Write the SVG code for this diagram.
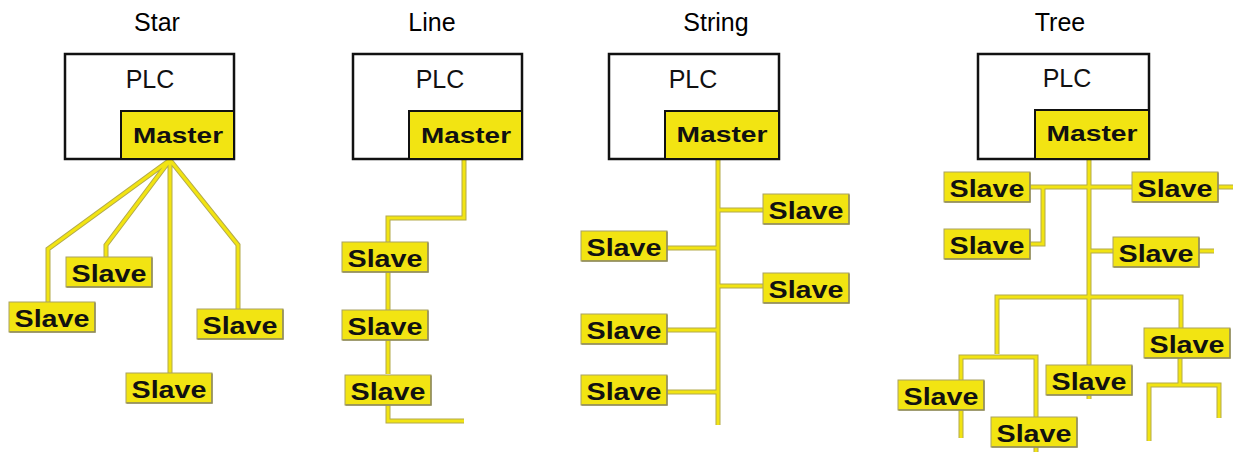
<svg xmlns="http://www.w3.org/2000/svg" width="1233" height="452" viewBox="0 0 1233 452">
  <style>
    .title { font-family: "Liberation Sans", Arial, sans-serif; font-size: 25px; fill: #000; text-anchor: middle; }
    .plc { fill: #fff; stroke: #111; stroke-width: 2.5; }
    .plc-label { font-family: "Liberation Sans", Arial, sans-serif; font-size: 25px; fill: #111; text-anchor: middle; }
    .master { fill: #f2e412; stroke: #111; stroke-width: 2; }
    .master-label { font-family: "Liberation Sans", Arial, sans-serif; font-weight: bold; font-size: 22px; fill: #111; text-anchor: middle; }
    .slave { fill: #f2e412; stroke: #a9a263; stroke-width: 1; }
    .slave-shade { fill: none; stroke: #8f8a5c; stroke-width: 1.5; }
    .slave-label { font-family: "Liberation Sans", Arial, sans-serif; font-weight: bold; font-size: 23px; fill: #111; text-anchor: middle; }
    .bus-edge { fill: none; stroke: #b3aa4c; stroke-width: 5; stroke-linejoin: miter; }
    .bus-core { fill: none; stroke: #f2e412; stroke-width: 3; stroke-linejoin: miter; }
  </style>
  <defs>
    <!-- reusable slave box, 86 x 30, origin at top-left -->
    <g id="slave-box">
      <rect class="slave" x="0" y="0" width="86" height="30"/>
      <path class="slave-shade" d="M0.5,30 H86 V0.5"/>
      <text class="slave-label" x="43" y="25" textLength="75" lengthAdjust="spacingAndGlyphs">Slave</text>
    </g>
    <!-- bus path data used twice: dark edge, then yellow core -->
    <path id="bus-star" d="M170,160 L48,249 V302 M170,160 L106,245 V257 M170,160 V373 M170,160 L238,245 V309"/>
    <path id="bus-line" d="M464,160 V218 H388 V242 M388,272 V310 M388,340 V374 M388,405 V421 H464"/>
    <path id="bus-string" d="M718,160 V425 M718,210 H763 M718,286 H763 M667,248 H718 M667,330 H718 M667,392 H718"/>
    <path id="bus-tree" d="M1089,160 V399 M1030,187 H1132 M1218,187 H1233 M1043,187 V244 H1030 M1089,251 H1113 M1199,251 H1214 M997,354 V297 H1181 V328 M961,380 V357 H1036 V417 M961,410 V438 M1036,447 V452 M1180,358 V385 M1149,441 V385 H1219 V418"/>
  </defs>

  <!-- topology titles -->
  <g id="titles">
    <text class="title" x="157" y="31">Star</text>
    <text class="title" x="432" y="31">Line</text>
    <text class="title" x="716" y="31">String</text>
    <text class="title" x="1060" y="31">Tree</text>
  </g>

  <!-- bus cabling -->
  <g id="connectors">
    <use href="#bus-star" class="bus-edge"/>
    <use href="#bus-star" class="bus-core"/>
    <use href="#bus-line" class="bus-edge"/>
    <use href="#bus-line" class="bus-core"/>
    <use href="#bus-string" class="bus-edge"/>
    <use href="#bus-string" class="bus-core"/>
    <use href="#bus-tree" class="bus-edge"/>
    <use href="#bus-tree" class="bus-core"/>
  </g>

  <!-- Star -->
  <g id="star-plc">
    <rect class="plc" x="65" y="54" width="169" height="105"/>
    <text class="plc-label" x="150" y="88">PLC</text>
    <rect class="master" x="121" y="111" width="113" height="48"/>
    <text class="master-label" x="178" y="143" textLength="90" lengthAdjust="spacingAndGlyphs">Master</text>
  </g>
  <g id="star-slave-1"><use href="#slave-box" x="66" y="257"/></g>
  <g id="star-slave-2"><use href="#slave-box" x="9" y="302"/></g>
  <g id="star-slave-3"><use href="#slave-box" x="197" y="309"/></g>
  <g id="star-slave-4"><use href="#slave-box" x="126" y="373"/></g>

  <!-- Line -->
  <g id="line-plc">
    <rect class="plc" x="353" y="54" width="169" height="105"/>
    <text class="plc-label" x="440" y="88">PLC</text>
    <rect class="master" x="409" y="111" width="113" height="48"/>
    <text class="master-label" x="466" y="143" textLength="90" lengthAdjust="spacingAndGlyphs">Master</text>
  </g>
  <g id="line-slave-1"><use href="#slave-box" x="342" y="242"/></g>
  <g id="line-slave-2"><use href="#slave-box" x="342" y="310"/></g>
  <g id="line-slave-3"><use href="#slave-box" x="345" y="375"/></g>

  <!-- String -->
  <g id="string-plc">
    <rect class="plc" x="609" y="54" width="170" height="105"/>
    <text class="plc-label" x="693" y="88">PLC</text>
    <rect class="master" x="665" y="111" width="114" height="48"/>
    <text class="master-label" x="722" y="142" textLength="91" lengthAdjust="spacingAndGlyphs">Master</text>
  </g>
  <g id="string-slave-r1"><use href="#slave-box" x="763" y="194"/></g>
  <g id="string-slave-r2"><use href="#slave-box" x="763" y="273"/></g>
  <g id="string-slave-l1"><use href="#slave-box" x="581" y="231"/></g>
  <g id="string-slave-l2"><use href="#slave-box" x="581" y="314"/></g>
  <g id="string-slave-l3"><use href="#slave-box" x="581" y="375"/></g>

  <!-- Tree -->
  <g id="tree-plc">
    <rect class="plc" x="978" y="54" width="171" height="105"/>
    <text class="plc-label" x="1067" y="87">PLC</text>
    <rect class="master" x="1035" y="110" width="114" height="49"/>
    <text class="master-label" x="1092" y="141" textLength="91" lengthAdjust="spacingAndGlyphs">Master</text>
  </g>
  <g id="tree-slave-tl"><use href="#slave-box" x="944" y="172"/></g>
  <g id="tree-slave-tr"><use href="#slave-box" x="1132" y="172"/></g>
  <g id="tree-slave-ml"><use href="#slave-box" x="944" y="229"/></g>
  <g id="tree-slave-mr"><use href="#slave-box" x="1113" y="237"/></g>
  <g id="tree-slave-r"><use href="#slave-box" x="1144" y="328"/></g>
  <g id="tree-slave-c"><use href="#slave-box" x="1046" y="365"/></g>
  <g id="tree-slave-bl"><use href="#slave-box" x="898" y="380"/></g>
  <g id="tree-slave-bm"><use href="#slave-box" x="991" y="417"/></g>
</svg>
